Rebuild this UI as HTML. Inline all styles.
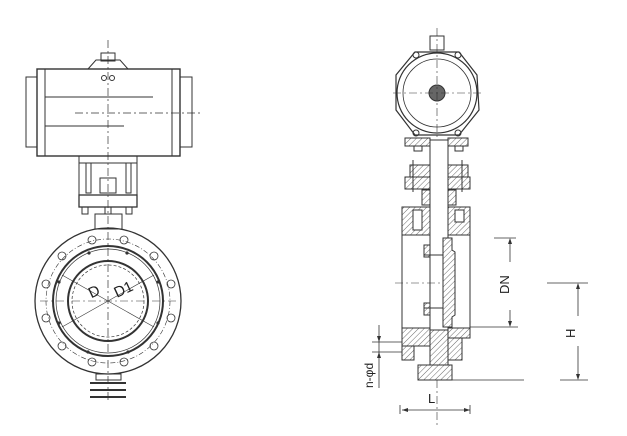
<!DOCTYPE html>
<html><head><meta charset="utf-8"><style>
html,body{margin:0;padding:0;background:#fff;}
svg{display:block;}
text{font-family:"Liberation Sans",sans-serif;fill:#222;}
</style></head><body>
<svg width="627" height="436" viewBox="0 0 627 436" xmlns="http://www.w3.org/2000/svg">
<defs>
<pattern id="h" width="4" height="4" patternUnits="userSpaceOnUse" patternTransform="rotate(45)">
<rect width="4" height="4" fill="#fff"/><line x1="0" y1="0" x2="0" y2="4" stroke="#444" stroke-width="0.8"/>
</pattern>
</defs>
<g fill="none" stroke="#333" stroke-width="1">
<!-- LEFT VIEW actuator -->
<rect x="26" y="77" width="11" height="70"/>
<rect x="180" y="77" width="12" height="70"/>
<rect x="37" y="69" width="143" height="87" stroke-width="1.4"/>
<line x1="45" y1="69" x2="45" y2="156"/>
<line x1="172" y1="69" x2="172" y2="156"/>
<line x1="45" y1="97" x2="153" y2="97"/>
<line x1="45" y1="126" x2="124" y2="126"/>
<line x1="75" y1="113" x2="202" y2="113" stroke-dasharray="8,3,2,3" stroke-width="0.7"/>
<line x1="108" y1="40" x2="108" y2="400" stroke-dasharray="8,3,2,3" stroke-width="0.7"/>
<path d="M88 69 L96 60 L120 60 L128 69"/>
<rect x="101" y="53" width="14" height="8"/>
<circle cx="104" cy="78" r="2.5"/><circle cx="112" cy="78" r="2.5"/>
<!-- bracket -->
<rect x="79" y="156" width="58" height="39"/>
<line x1="79" y1="163" x2="137" y2="163"/>
<rect x="86" y="163" width="5" height="30"/><rect x="126" y="163" width="5" height="30"/>
<rect x="100" y="178" width="16" height="15"/>
<rect x="79" y="195" width="58" height="12" stroke-width="1.3"/>
<rect x="82" y="207" width="6" height="7"/><rect x="105" y="207" width="6" height="7"/><rect x="126" y="207" width="6" height="7"/>
<rect x="95" y="214" width="27" height="15"/>
<!-- flange -->
<circle cx="108" cy="301" r="73" stroke-width="1.3"/>
<circle cx="108" cy="301" r="62" stroke-dasharray="5,2,1,2" stroke-width="0.6"/>
<circle cx="108" cy="301" r="55" stroke-width="2"/>
<circle cx="108" cy="301" r="52" stroke-width="0.7"/>
<circle cx="108" cy="301" r="40" stroke-width="2"/>
<circle cx="108" cy="301" r="36" stroke-dasharray="3,2" stroke-width="0.7"/>
<line x1="62" y1="275" x2="154" y2="327" stroke-width="0.6"/>
<line x1="62" y1="327" x2="154" y2="275" stroke-width="0.6"/>
<line x1="40" y1="301" x2="176" y2="301" stroke-dasharray="8,3,2,3" stroke-width="0.6"/>
<g stroke-width="0.8">
<circle cx="92" cy="240" r="4"/><circle cx="124" cy="240" r="4"/>
<circle cx="62" cy="256" r="4"/><circle cx="154" cy="256" r="4"/>
<circle cx="46" cy="284" r="4"/><circle cx="171" cy="284" r="4"/>
<circle cx="46" cy="318" r="4"/><circle cx="171" cy="318" r="4"/>
<circle cx="62" cy="346" r="4"/><circle cx="154" cy="346" r="4"/>
<circle cx="92" cy="362" r="4"/><circle cx="124" cy="362" r="4"/>
</g>
<g fill="#333" stroke="none">
<circle cx="89" cy="253" r="1.6"/><circle cx="127" cy="253" r="1.6"/>
<circle cx="59" cy="282" r="1.6"/><circle cx="158" cy="282" r="1.6"/>
<circle cx="59" cy="323" r="1.6"/><circle cx="158" cy="323" r="1.6"/>
<circle cx="88" cy="352" r="1.6"/><circle cx="128" cy="352" r="1.6"/>
</g>
<rect x="96" y="374" width="25" height="6"/>
<line x1="90" y1="383" x2="126" y2="383" stroke-width="2"/>
<line x1="90" y1="390" x2="126" y2="390" stroke-width="2"/>
<line x1="90" y1="397" x2="126" y2="397" stroke-width="2"/>
</g>
<text x="88" y="296" font-size="15" transform="rotate(-25 95 290)">D</text>
<text x="114" y="295" font-size="15" transform="rotate(-25 122 290)">D1</text>

<g fill="none" stroke="#333" stroke-width="1">
<!-- RIGHT VIEW actuator -->
<path d="M415 52 L459 52 L477 75 L479 110 L459 135 L415 135 L396 110 L396 75 Z" stroke-width="1.2"/>
<circle cx="437" cy="93" r="40" stroke-width="1.2"/>
<circle cx="437" cy="93" r="34" stroke-width="0.8"/>
<circle cx="437" cy="93" r="8" fill="#666"/>
<circle cx="416" cy="55" r="3"/><circle cx="458" cy="55" r="3"/>
<circle cx="416" cy="133" r="3"/><circle cx="458" cy="133" r="3"/>
<rect x="430" y="36" width="14" height="14"/>
<line x1="393" y1="93" x2="481" y2="93" stroke-dasharray="8,3,2,3" stroke-width="0.6"/>
<line x1="437" y1="28" x2="437" y2="425" stroke-dasharray="8,3,2,3" stroke-width="0.6"/>
<!-- top flanges -->
<rect x="405" y="138" width="25" height="8" fill="url(#h)"/>
<rect x="448" y="138" width="20" height="8" fill="url(#h)"/>
<rect x="414" y="146" width="8" height="5"/><rect x="455" y="146" width="8" height="5"/>
<!-- bracket -->
<rect x="410" y="165" width="20" height="12" fill="url(#h)"/>
<rect x="448" y="165" width="20" height="12" fill="url(#h)"/>
<rect x="405" y="177" width="25" height="12" fill="url(#h)"/>
<rect x="448" y="177" width="22" height="12" fill="url(#h)"/>
<line x1="413" y1="160" x2="413" y2="192"/><line x1="462" y1="160" x2="462" y2="192"/>
<rect x="422" y="190" width="8" height="15" fill="url(#h)"/>
<rect x="448" y="190" width="8" height="15" fill="url(#h)"/>
<!-- body upper -->
<rect x="402" y="207" width="28" height="28" fill="url(#h)"/>
<rect x="448" y="207" width="22" height="28" fill="url(#h)"/>
<rect x="413" y="210" width="9" height="20" fill="#fff"/>
<rect x="455" y="210" width="9" height="12" fill="#fff"/>
<line x1="402" y1="235" x2="402" y2="328"/><line x1="470" y1="235" x2="470" y2="328"/>
<!-- stem -->
<rect x="430" y="140" width="18" height="225" fill="#fff"/>
<line x1="430" y1="140" x2="430" y2="365"/><line x1="448" y1="140" x2="448" y2="365"/>
<!-- disc -->
<path d="M443 238 L452 238 L452 250 L455 252 L455 315 L452 317 L452 327 L443 327 Z" fill="url(#h)"/>
<rect x="424" y="245" width="6" height="12" fill="url(#h)"/>
<rect x="424" y="303" width="6" height="12" fill="url(#h)"/>
<line x1="424" y1="255" x2="443" y2="255"/><line x1="424" y1="308" x2="443" y2="308"/>
<line x1="395" y1="283" x2="442" y2="283" stroke-dasharray="8,3,2,3" stroke-width="0.6"/>
<!-- body lower -->
<rect x="402" y="328" width="28" height="18" fill="url(#h)"/>
<rect x="448" y="328" width="22" height="10" fill="url(#h)"/>
<rect x="448" y="338" width="14" height="22" fill="url(#h)"/>
<rect x="402" y="346" width="12" height="14" fill="url(#h)"/>
<rect x="430" y="330" width="18" height="35" fill="url(#h)"/>
<!-- bottom cap -->
<rect x="418" y="365" width="34" height="15" fill="url(#h)"/>
<!-- DN dim -->
<line x1="494" y1="238" x2="516" y2="238" stroke-width="0.8"/>
<line x1="470" y1="327" x2="518" y2="327" stroke-width="0.8"/>
<line x1="510" y1="240" x2="510" y2="262" stroke-width="0.8"/>
<line x1="510" y1="310" x2="510" y2="325" stroke-width="0.8"/>
<!-- H dim -->
<line x1="547" y1="283" x2="588" y2="283" stroke-width="0.8"/>
<line x1="452" y1="380" x2="524" y2="380" stroke-width="0.8"/>
<line x1="560" y1="380" x2="588" y2="380" stroke-width="0.8"/>
<line x1="578" y1="285" x2="578" y2="316" stroke-width="0.8"/>
<line x1="578" y1="346" x2="578" y2="378" stroke-width="0.8"/>
<!-- n-phi d -->
<line x1="379" y1="325" x2="379" y2="388" stroke-width="0.8"/>
<line x1="372" y1="342" x2="402" y2="342" stroke-width="0.8"/>
<line x1="372" y1="352" x2="402" y2="352" stroke-width="0.8"/>
<!-- L -->
<line x1="402" y1="410" x2="470" y2="410" stroke-width="0.8"/>
<line x1="400" y1="405" x2="400" y2="414" stroke-width="0.8"/>
<line x1="470" y1="405" x2="470" y2="414" stroke-width="0.8"/>
</g>
<g fill="#333">
<path d="M510 238 L508 244 L512 244Z"/><path d="M510 327 L508 321 L512 321Z"/>
<path d="M578 283 L576 289 L580 289Z"/><path d="M578 380 L576 374 L580 374Z"/>
<path d="M379 342 L377 336 L381 336Z"/><path d="M379 352 L377 358 L381 358Z"/>
<path d="M402 410 L408 408 L408 412Z"/><path d="M470 410 L464 408 L464 412Z"/>
</g>
<text x="0" y="0" font-size="13" transform="translate(509 294) rotate(-90)">DN</text>
<text x="0" y="0" font-size="13" transform="translate(575 338) rotate(-90)">H</text>
<text x="0" y="0" font-size="12" transform="translate(373 388) rotate(-90)">n-φd</text>
<text x="428" y="403" font-size="13">L</text>
</svg>
</body></html>
